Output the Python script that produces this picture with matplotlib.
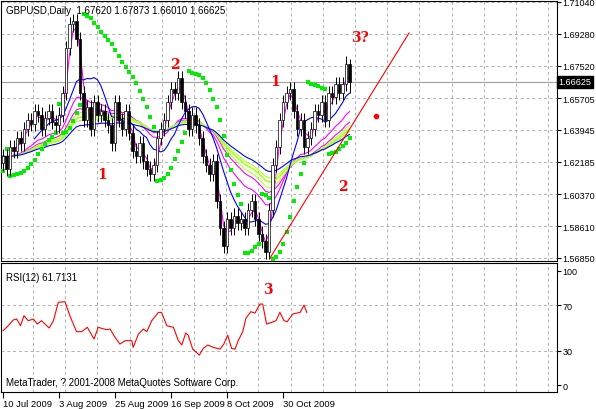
import numpy as np
import matplotlib
matplotlib.use('Agg')
import matplotlib.pyplot as plt

plt.rcParams['font.family'] = ['Liberation Sans', 'DejaVu Sans']

# daily closes, GBPUSD 10 Jul 2009 .. mid Nov 2009
closes = [1.625, 1.618, 1.630, 1.628, 1.635, 1.632,
          1.640, 1.645, 1.643, 1.650, 1.648, 1.640, 1.646, 1.650, 1.644,
          1.642, 1.648, 1.660,
          1.685, 1.698, 1.700, 1.690,
          1.660, 1.645, 1.652,
          1.640, 1.655, 1.648, 1.650, 1.645, 1.642,
          1.632, 1.655, 1.645, 1.640, 1.650, 1.638,
          1.628, 1.625, 1.632, 1.622, 1.618, 1.615,
          1.620, 1.635, 1.640, 1.645,
          1.655, 1.662, 1.660, 1.668, 1.655,
          1.650, 1.640, 1.648, 1.642, 1.635,
          1.625, 1.620, 1.615, 1.622,
          1.600, 1.585, 1.575, 1.590, 1.585, 1.592,
          1.588, 1.590, 1.585, 1.595, 1.600,
          1.590, 1.582, 1.578, 1.572, 1.595,
          1.620, 1.630, 1.645, 1.655,
          1.660, 1.662, 1.650, 1.640, 1.645,
          1.630, 1.635, 1.640, 1.650, 1.648,
          1.655, 1.645, 1.660, 1.658, 1.665,
          1.660, 1.665, 1.6762, 1.66625]
last_ohlc = (1.67620, 1.67873, 1.66010, 1.66625)

# RSI(12)
rsi_bar = [0, 1.5, 2.9, 3.9, 5, 6, 7.2, 8.7, 9.8, 11, 13.2, 14.4, 15.8, 17.7, 19.1, 21,
           22.5, 24.1, 26, 27.2, 29.6, 30.6, 32, 33.4, 34.9, 36.8, 37.2, 38.7, 40.1, 41.1,
           42.5, 44.4, 45.3, 46.8, 48.7, 50.1, 51.1, 52.2, 52.9, 54.2, 56.1, 57.2, 58.5,
           60.1, 62, 63.1, 64.2, 65.3, 66.3, 67.2, 68.5, 69.4, 70.8, 72, 73.4, 74.2, 75.3,
           76.8, 78, 79.1, 80.3, 81.2, 82.8, 84.9, 86, 86.8]
rsi_val = [47.6, 52.0, 57.0, 57.9, 52.0, 60.8, 56.4, 57.9, 53.5, 56.4, 50.0, 56.4, 72.5,
           73.1, 60.8, 46.8, 46.8, 50.6, 40.3, 50.6, 48.5, 49.1, 41.8, 35.9, 38.9, 38.9,
           33.0, 44.7, 49.1, 46.8, 56.4, 63.7, 63.7, 52.0, 50.6, 38.9, 35.1, 45.6, 43.8,
           31.5, 26.3, 32.1, 35.1, 33.0, 31.5, 35.9, 43.8, 32.1, 31.5, 38.9, 46.8, 58.5,
           64.3, 63.1, 71.0, 71.0, 53.5, 55.0, 56.4, 63.7, 56.4, 55.5, 62.3, 63.7, 70.1, 63.7]

date_labels = ['10 Jul 2009', '3 Aug 2009', '25 Aug 2009', '16 Sep 2009', '8 Oct 2009', '30 Oct 2009']
price_ticks = [1.71040, 1.69280, 1.67520, 1.65705, 1.63945, 1.62185, 1.60370, 1.58610, 1.56850]
rsi_ticks = [100, 70, 30, 0]

c = np.array(closes)
o = np.r_[c[0] - 0.004, c[:-1]]
o[-1] = last_ohlc[0]
wick = 0.004
h = np.maximum(o, c) + wick
l = np.minimum(o, c) - wick
h[-1], l[-1] = last_ohlc[1], last_ohlc[2]
n = len(c)
idx = np.arange(n)


def sma(a, p):
    out = np.full(len(a), np.nan)
    for i in range(p - 1, len(a)):
        out[i] = a[i - p + 1:i + 1].mean()
    return out


def ema(a, p):
    out = np.empty(len(a))
    out[0] = a[0]
    k = 2 / (p + 1)
    for i in range(1, len(a)):
        out[i] = out[i - 1] + k * (a[i] - out[i - 1])
    return out


def psar(h, l, step=0.02, mx=0.2):
    sar = np.empty(len(h))
    up = True
    af = step
    ep = h[0]
    sar[0] = l[0]
    for i in range(1, len(h)):
        s = sar[i - 1] + af * (ep - sar[i - 1])
        if up:
            if l[i] < s:
                up, s, ep, af = False, ep, l[i], step
            elif h[i] > ep:
                ep, af = h[i], min(af + step, mx)
        else:
            if h[i] > s:
                up, s, ep, af = True, ep, h[i], step
            elif l[i] < ep:
                ep, af = l[i], min(af + step, mx)
        sar[i] = s
    return sar


fig = plt.figure(figsize=(5.96, 4.10), dpi=100)
W, H = 596, 410


def box(x0, y0, x1, y1):
    return [x0 / W, 1 - y1 / H, (x1 - x0) / W, (y1 - y0) / H]


ax = fig.add_axes(box(1, 2, 557, 262))
ax2 = fig.add_axes(box(1, 264, 557, 393))


def px2i(px):
    return (px - 3) / 3.5


def py2p(py):
    return 1.71040 - (py - 3) * (0.1419 / 256)


for a in (ax, ax2):
    a.set_xlim(px2i(1), px2i(557))
    for k in range(17):
        a.axvline(px2i(33 + 32.2 * k), color='#b0b0b0', ls=(0, (3, 3)), lw=0.7, zorder=0)
    a.tick_params(axis='y', which='both', right=True, left=False, labelright=True,
                  labelleft=False, labelsize=6.5, length=3, pad=1)
    a.set_xticks([])
ax.set_ylim(py2p(262), py2p(2))
ax.set_yticks(price_ticks)
ax.set_yticklabels([f'{t:.5f}' for t in price_ticks])
for t in price_ticks:
    ax.axhline(t, color='#b0b0b0', ls=(0, (3, 3)), lw=0.7, zorder=0)

# moving averages
ax.plot(idx, sma(c, 3), color='#ff00ff', lw=0.8)
ax.plot(idx, ema(c, 21), color='#ff00ff', lw=0.8)
ax.plot(idx, ema(c, 30), color='#ff00ff', lw=0.8)
ax.plot(idx, ema(c, 34), color='#adff2f', lw=0.8)
ax.plot(idx, ema(c, 45), color='#adff2f', lw=0.8)
ax.plot(idx, ema(c, 40), color='#adff2f', lw=1.3)
ax.plot(idx, sma(c, 10), color='#0000ff', lw=0.8)
ax.plot(idx, ema(c, 55), color='#0000ff', lw=0.8)

ax.scatter(idx, psar(h, l), s=7, marker='s', color='#00ee00', zorder=3, linewidths=0)

# candles
for i in range(n):
    ax.vlines(i, l[i], h[i], color='black', lw=0.7, zorder=4)
    bull = c[i] >= o[i]
    ax.bar(i, abs(c[i] - o[i]) or 0.0004, bottom=min(o[i], c[i]), width=0.65,
           color='white' if bull else 'black', edgecolor='black', lw=0.5, zorder=5)

ax.axhline(last_ohlc[3], color='#a0a0a0', lw=0.8, zorder=1)
ax.text(1.003, last_ohlc[3], f'{last_ohlc[3]:.5f}', transform=ax.get_yaxis_transform(),
        fontsize=6.5, color='white', va='center', ha='left',
        bbox=dict(boxstyle='square,pad=0.15', fc='black', ec='black'))

# trend line and wave marks
ax.plot([px2i(270), px2i(409)], [py2p(259), py2p(34)], color='red', lw=0.8, zorder=6)
ax.plot(px2i(376), py2p(117), 'o', color='red', ms=3)
wave = [('1', 102, 175), ('2', 175, 65), ('1', 275, 82), ('3?', 360, 38), ('2', 343, 187)]
for t, x, y in wave:
    ax.text(px2i(x), py2p(y), t, color='red', fontsize=10, fontweight='bold',
            family='DejaVu Serif', ha='center', va='center', zorder=7)

ax.text(5 / 556, 0.985, 'GBPUSD,Daily  1.67620 1.67873 1.66010 1.66625',
        transform=ax.transAxes, fontsize=7, va='top', ha='left')

# RSI
ax2.set_ylim(-6.1, 107)
ax2.set_yticks(rsi_ticks)
for t in (30, 70):
    ax2.axhline(t, color='#b0b0b0', ls=(0, (3, 3)), lw=0.7, zorder=0)
ax2.plot(rsi_bar, rsi_val, color='red', lw=0.8)
ax2.text(5 / 556, 0.93, 'RSI(12) 61.7131', transform=ax2.transAxes, fontsize=7, va='top')
ax2.text(5 / 556, 0.04, 'MetaTrader, ? 2001-2008 MetaQuotes Software Corp.',
         transform=ax2.transAxes, fontsize=7, va='bottom')
ax2.text(px2i(268), 84, '3', color='red', fontsize=10, fontweight='bold',
         family='DejaVu Serif', ha='center', va='center')
ax2.set_xticks([16 * k for k in range(len(date_labels))])
ax2.set_xticklabels(date_labels, fontsize=6.8, ha='left')
ax2.tick_params(axis='x', length=4, pad=1, bottom=True)

fig.savefig('out.png', dpi=100, facecolor='white')
